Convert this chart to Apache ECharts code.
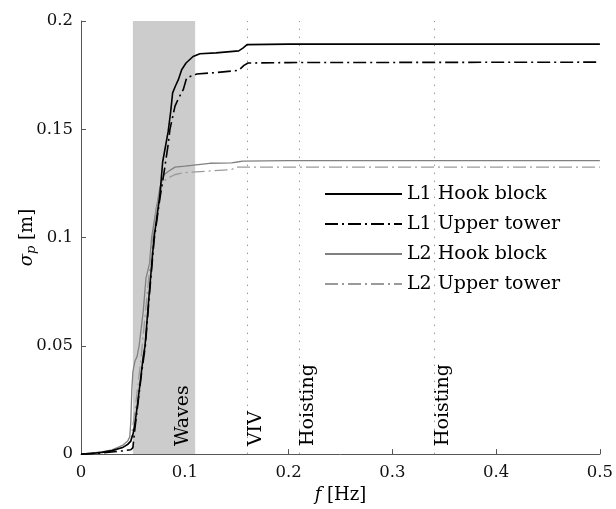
<!DOCTYPE html>
<html><head><meta charset="utf-8">
<script src="https://cdn.jsdelivr.net/npm/echarts@6/dist/echarts.min.js"></script>
<style>html,body{margin:0;padding:0;background:#fff}#c{width:616px;height:509px}</style>
</head><body><div id="c"></div>
<script>
// Frequency [Hz] and sigma_p [m]
const fL1Hook = [0, 0.01, 0.02, 0.03, 0.04, 0.045, 0.048, 0.05, 0.052, 0.055, 0.058, 0.06, 0.0617, 0.0658, 0.0703, 0.073, 0.076, 0.0787, 0.081, 0.084, 0.0864, 0.0883, 0.091, 0.0938, 0.097, 0.1012, 0.108, 0.1146, 0.13, 0.152, 0.156, 0.16, 0.2, 0.5];
const vL1Hook = [0, 0.0003, 0.0008, 0.0016, 0.003, 0.0045, 0.006, 0.009, 0.014, 0.025, 0.037, 0.045, 0.05, 0.0745, 0.0997, 0.109, 0.1195, 0.135, 0.141, 0.149, 0.158, 0.1668, 0.17, 0.1729, 0.1775, 0.1806, 0.1836, 0.1849, 0.1853, 0.1862, 0.1875, 0.1891, 0.1893, 0.1893];

const fL1Upper = [0, 0.02, 0.04, 0.048, 0.05, 0.052, 0.055, 0.058, 0.062, 0.066, 0.0705, 0.076, 0.08, 0.084, 0.0857, 0.088, 0.0906, 0.0934, 0.0986, 0.1018, 0.1115, 0.13, 0.152, 0.157, 0.161, 0.2, 0.5];
const vL1Upper = [0, 0.0005, 0.0015, 0.002, 0.003, 0.012, 0.024, 0.036, 0.05, 0.074, 0.099, 0.118, 0.13, 0.143, 0.15, 0.155, 0.1607, 0.1637, 0.1684, 0.1737, 0.1755, 0.1762, 0.1772, 0.1795, 0.1806, 0.1808, 0.181];

const fL2Hook = [0, 0.02, 0.03, 0.04, 0.045, 0.047, 0.048, 0.049, 0.05, 0.052, 0.054, 0.056, 0.06, 0.0626, 0.066, 0.068, 0.072, 0.076, 0.08, 0.084, 0.0906, 0.1, 0.124, 0.145, 0.152, 0.156, 0.2, 0.5];
const vL2Hook = [0, 0.001, 0.002, 0.004, 0.006, 0.008, 0.015, 0.03, 0.038, 0.043, 0.045, 0.05, 0.066, 0.0813, 0.088, 0.0997, 0.112, 0.123, 0.129, 0.1305, 0.1325, 0.133, 0.1343, 0.1345, 0.135, 0.1353, 0.1355, 0.1355];

const fL2Upper = [0, 0.02, 0.03, 0.04, 0.045, 0.048, 0.052, 0.058, 0.063, 0.068, 0.073, 0.078, 0.082, 0.09, 0.1, 0.145, 0.15, 0.2, 0.5];
const vL2Upper = [0, 0.0008, 0.0015, 0.003, 0.0045, 0.006, 0.02, 0.045, 0.07, 0.095, 0.115, 0.124, 0.127, 0.129, 0.13, 0.1314, 0.1325, 0.1325, 0.1325];

const seriesNames = ['L1 Hook block', 'L1 Upper tower', 'L2 Hook block', 'L2 Upper tower'];
const xTicks = [0, 0.1, 0.2, 0.3, 0.4, 0.5];
const yTicks = [0, 0.05, 0.1, 0.15, 0.2];
const waveBand = [0.05, 0.11];
const lineFreqs = [0.156, 0.21, 0.34];
const lineLabels = ['VIV', 'Hoisting', 'Hoisting'];
const bandLabel = 'Waves';

const zip = (f, v) => f.map((x, i) => [x, v[i]]);
const FONT = 'DejaVu Serif';

const chart = echarts.init(document.getElementById('c'), null, {renderer: 'canvas'});

const markLines = lineFreqs.map((x, i) => ({
  xAxis: x,
  label: {formatter: lineLabels[i], position: 'insideStartBottom'}
}));
markLines.push({
  xAxis: waveBand[1],
  lineStyle: {color: 'rgba(0,0,0,0)'},
  label: {formatter: bandLabel, position: 'insideStartTop', distance: [8, 3]}
});

chart.setOption({
  animation: false,
  backgroundColor: '#fff',
  grid: {left: 81, right: 16, top: 21, bottom: 51},
  legend: {
    orient: 'vertical', left: 319, top: 179,
    data: seriesNames,
    itemWidth: 77, itemHeight: 14, itemGap: 10,
    itemStyle: {opacity: 0},
    textStyle: {fontFamily: FONT, fontSize: 19, color: '#000', lineHeight: 20}
  },
  xAxis: {
    type: 'value', min: 0, max: 0.5, interval: 0.1,
    name: '{i|f} [Hz]', nameLocation: 'middle', nameGap: 27,
    nameTextStyle: {fontFamily: FONT, fontSize: 18, color: '#000',
      rich: {i: {fontFamily: FONT, fontStyle: 'italic', fontSize: 18, color: '#000'}}},
    axisLine: {lineStyle: {color: '#555', width: 1}},
    axisTick: {inside: true, length: 5, lineStyle: {color: '#555'}},
    axisLabel: {fontFamily: FONT, fontSize: 16.5, color: '#111', margin: 10,
      formatter: v => (xTicks.includes(+v.toFixed(2)) ? String(+v.toFixed(2)) : '')},
    splitLine: {show: false}
  },
  yAxis: {
    type: 'value', min: 0, max: 0.2, interval: 0.05,
    name: '{s|σ}{p|p} [m]', nameLocation: 'middle', nameGap: 43, nameRotate: 90,
    nameMoveOverlap: false,
    nameTextStyle: {fontFamily: FONT, fontSize: 18, color: '#000',
      rich: {s: {fontFamily: FONT, fontStyle: 'italic', fontSize: 18, color: '#000'},
             p: {fontFamily: FONT, fontStyle: 'italic', fontSize: 13, color: '#000', verticalAlign: 'bottom', padding: [8, 0, 0, 0]}}},
    axisLine: {show: true, lineStyle: {color: '#555', width: 1}},
    axisTick: {show: true, inside: true, length: 5, lineStyle: {color: '#555'}},
    axisLabel: {fontFamily: FONT, fontSize: 16.5, color: '#111', margin: 8,
      formatter: v => (yTicks.includes(+v.toFixed(2)) ? String(+v.toFixed(2)) : '')},
    splitLine: {show: false}
  },
  series: [
    {
      name: '_annot', type: 'line', data: [], z: 0, silent: true,
      markArea: {silent: true, itemStyle: {color: '#cccccc', opacity: 1},
        data: [[{xAxis: waveBand[0]}, {xAxis: waveBand[1]}]]},
      markLine: {silent: true, symbol: ['none', 'none'],
        lineStyle: {color: '#999', type: [1.5, 6.5], width: 1},
        label: {show: true, fontFamily: FONT, fontSize: 19, color: '#000', distance: [8, 0]},
        data: markLines}
    },
    {name: seriesNames[0], type: 'line', z: 5, showSymbol: false, symbol: 'none', data: zip(fL1Hook, vL1Hook),
      lineStyle: {color: '#000', width: 1.6}, itemStyle: {color: '#000'}},
    {name: seriesNames[1], type: 'line', z: 4, showSymbol: false, symbol: 'none', data: zip(fL1Upper, vL1Upper),
      lineStyle: {color: '#000', width: 1.6, type: [13, 4, 2, 4]}, itemStyle: {color: '#000'}},
    {name: seriesNames[2], type: 'line', z: 3, showSymbol: false, symbol: 'none', data: zip(fL2Hook, vL2Hook),
      lineStyle: {color: '#808080', width: 1.3}, itemStyle: {color: '#808080'}},
    {name: seriesNames[3], type: 'line', z: 3, showSymbol: false, symbol: 'none', data: zip(fL2Upper, vL2Upper),
      lineStyle: {color: '#9a9a9a', width: 1.3, type: [13, 4, 2, 4]}, itemStyle: {color: '#9a9a9a'}}
  ]
});
</script></body></html>
